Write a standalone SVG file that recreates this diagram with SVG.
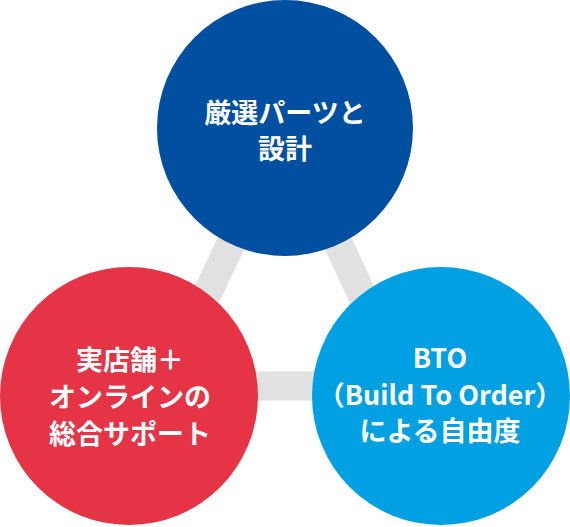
<svg xmlns="http://www.w3.org/2000/svg" width="570" height="527" viewBox="0 0 570 527">
<style>
.lk{stroke:#e1e1e1;stroke-width:29;fill:none}
.t{font-family:"Noto Sans CJK JP","Noto Sans",sans-serif;font-weight:700;font-size:27px;fill:#ffffff;text-anchor:middle}
</style>
<rect width="570" height="527" fill="#ffffff"/>
<g id="connectors">
<line class="lk" x1="285" y1="128" x2="164" y2="386"/>
<line class="lk" x1="285" y1="128" x2="404" y2="386"/>
<line class="lk" x1="164" y1="386" x2="404" y2="386"/>
</g>
<g id="node-parts">
<circle cx="285" cy="128" r="128" fill="#004fa1"/>
<text class="t" x="285" y="123">厳選パーツと</text>
<text class="t" x="285" y="159">設計</text>
</g>
<g id="node-store">
<circle cx="129" cy="396" r="129" fill="#e43446"/>
<text class="t" x="130" y="370">実店舗＋</text>
<text class="t" x="130" y="407">オンラインの</text>
<text class="t" x="130" y="444">総合サポート</text>
</g>
<g id="node-bto">
<circle cx="441" cy="396" r="129" fill="#00a0e3"/>
<text class="t" x="440" y="368">BTO</text>
<text class="t" x="440" y="405">（Build To Order）</text>
<text class="t" x="440" y="441">による自由度</text>
</g>
</svg>
